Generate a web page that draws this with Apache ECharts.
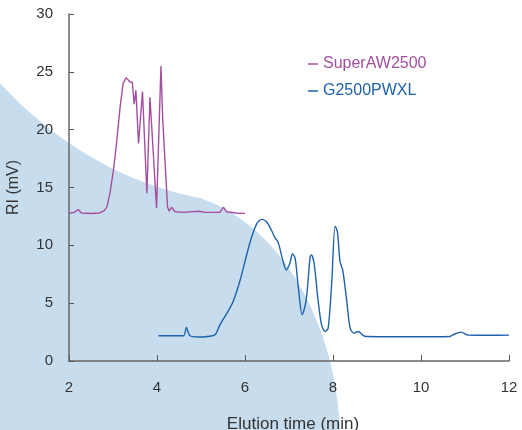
<!DOCTYPE html>
<html>
<head>
<meta charset="utf-8">
<script src="https://cdn.jsdelivr.net/npm/echarts@6/dist/echarts.min.js"></script>
<style>
  html, body { margin: 0; padding: 0; background: #fff; }
  #chart { width: 522px; height: 430px; }
</style>
</head>
<body>
<div id="chart"></div>
<script>
// SuperAW2500 trace [time (min), RI (mV)]
const superAW = [
  [2.02, 12.8], [2.12, 12.85], [2.21, 13.1], [2.28, 12.8], [2.5, 12.75], [2.7, 12.8],
  [2.8, 13.0], [2.86, 13.3], [2.93, 14.5], [3.01, 16.5], [3.08, 18.8], [3.16, 21.9],
  [3.23, 24.0], [3.3, 24.5], [3.33, 24.5], [3.39, 24.1], [3.44, 24.1], [3.48, 22.2],
  [3.52, 23.4], [3.58, 18.8], [3.67, 23.3], [3.77, 14.5], [3.84, 22.8], [3.99, 13.2],
  [4.09, 25.5], [4.13, 20.9], [4.17, 20.9], [4.24, 13.3], [4.28, 12.95], [4.33, 13.3],
  [4.41, 12.9], [4.6, 12.85], [4.94, 12.95], [5.1, 12.85], [5.43, 12.85], [5.51, 13.3],
  [5.58, 12.9], [5.8, 12.8], [6.0, 12.76]
];

// G2500PWXL trace [time (min), RI (mV)]
const g2500 = [
  [4.03, 2.18], [4.3, 2.18], [4.6, 2.18], [4.67, 2.9], [4.75, 2.18], [4.94, 2.07],
  [5.15, 2.12], [5.32, 2.27], [5.43, 3.13], [5.6, 4.2], [5.73, 5.14], [5.89, 7.0],
  [6.11, 10.2], [6.27, 11.9], [6.38, 12.24], [6.49, 12.04], [6.6, 11.3], [6.68, 10.66],
  [6.75, 10.3], [6.86, 8.7], [6.94, 7.87], [7.02, 8.45], [7.08, 9.25], [7.14, 8.88],
  [7.21, 6.43], [7.3, 4.0], [7.39, 5.28], [7.48, 9.0], [7.51, 9.16], [7.57, 8.45],
  [7.66, 5.28], [7.74, 3.13], [7.82, 2.55], [7.89, 2.84], [7.97, 6.72], [8.05, 11.66],
  [8.1, 11.17], [8.16, 8.59], [8.22, 7.87], [8.31, 5.28], [8.39, 2.84], [8.48, 2.41],
  [8.57, 2.55], [8.69, 2.2], [8.76, 2.12], [9.5, 2.1], [10.3, 2.1], [10.66, 2.12],
  [10.73, 2.27], [10.91, 2.5], [11.07, 2.24], [11.5, 2.22], [12.0, 2.24]
];

const xTicks = [2, 12, 2];   // min, max, interval
const yTicks = [0, 30, 5];

const purple = '#a4509f';
const blue = '#1d62ad';
const font = 'Liberation Sans, Arial, sans-serif';

// background decoration: two cubic curves, sampled into a polygon
function cubic(p0, p1, p2, p3, n) {
  let out = [];
  for (let i = 0; i <= n; i++) {
    let t = i / n, u = 1 - t;
    out.push([
      u*u*u*p0[0] + 3*u*u*t*p1[0] + 3*u*t*t*p2[0] + t*t*t*p3[0],
      u*u*u*p0[1] + 3*u*u*t*p1[1] + 3*u*t*t*p2[1] + t*t*t*p3[1]
    ]);
  }
  return out;
}
let bgPts = cubic([0, 83], [50, 138], [120, 183], [200, 198], 30)
  .concat(cubic([200, 198], [280, 225], [335, 320], [340, 430], 30))
  .concat([[0, 430]]);

const chart = echarts.init(document.getElementById('chart'));
chart.setOption({
  animation: false,
  textStyle: { fontFamily: font },
  graphic: [{
    type: 'polygon',
    z: -10,
    silent: true,
    shape: { points: bgPts },
    style: { fill: '#c7ddee' }
  }],
  grid: { left: 69, right: 13, top: 14, bottom: 69, outerBoundsMode: 'none' },
  legend: {
    orient: 'vertical',
    left: 303,
    top: 51,
    itemWidth: 10,
    itemHeight: 1.5,
    itemGap: 11,
    icon: 'rect',
    textStyle: { fontSize: 16, fontFamily: font },
    data: [
      { name: 'SuperAW2500', textStyle: { color: purple } },
      { name: 'G2500PWXL', textStyle: { color: blue } }
    ]
  },
  xAxis: {
    type: 'value',
    min: xTicks[0], max: xTicks[1], interval: xTicks[2],
    name: 'Elution time (min)',
    nameLocation: 'middle',
    nameGap: 55,
    nameTextStyle: { fontSize: 17, color: '#333', padding: [0, 0, 0, 8] },
    axisLine: { lineStyle: { color: '#666', width: 1.5 } },
    axisTick: { inside: true, length: 6, lineStyle: { color: '#555' } },
    axisLabel: { fontSize: 15, color: '#333', margin: 19 },
    splitLine: { show: false }
  },
  yAxis: {
    type: 'value',
    min: yTicks[0], max: yTicks[1], interval: yTicks[2],
    name: 'RI (mV)',
    nameLocation: 'middle',
    nameGap: 47,
    nameTextStyle: { fontSize: 16, color: '#333' },
    axisLine: { show: true, lineStyle: { color: '#666', width: 1.5 } },
    axisTick: { show: true, inside: true, length: 5, lineStyle: { color: '#555' } },
    axisLabel: { fontSize: 15, color: '#333', margin: 16 },
    splitLine: { show: false }
  },
  series: [
    {
      name: 'SuperAW2500',
      type: 'line',
      showSymbol: false,
      color: purple,
      lineStyle: { width: 1.4, color: purple },
      data: superAW
    },
    {
      name: 'G2500PWXL',
      type: 'line',
      showSymbol: false,
      smooth: 0.3,
      color: blue,
      lineStyle: { width: 1.4, color: blue },
      data: g2500
    }
  ]
});
</script>
</body>
</html>
